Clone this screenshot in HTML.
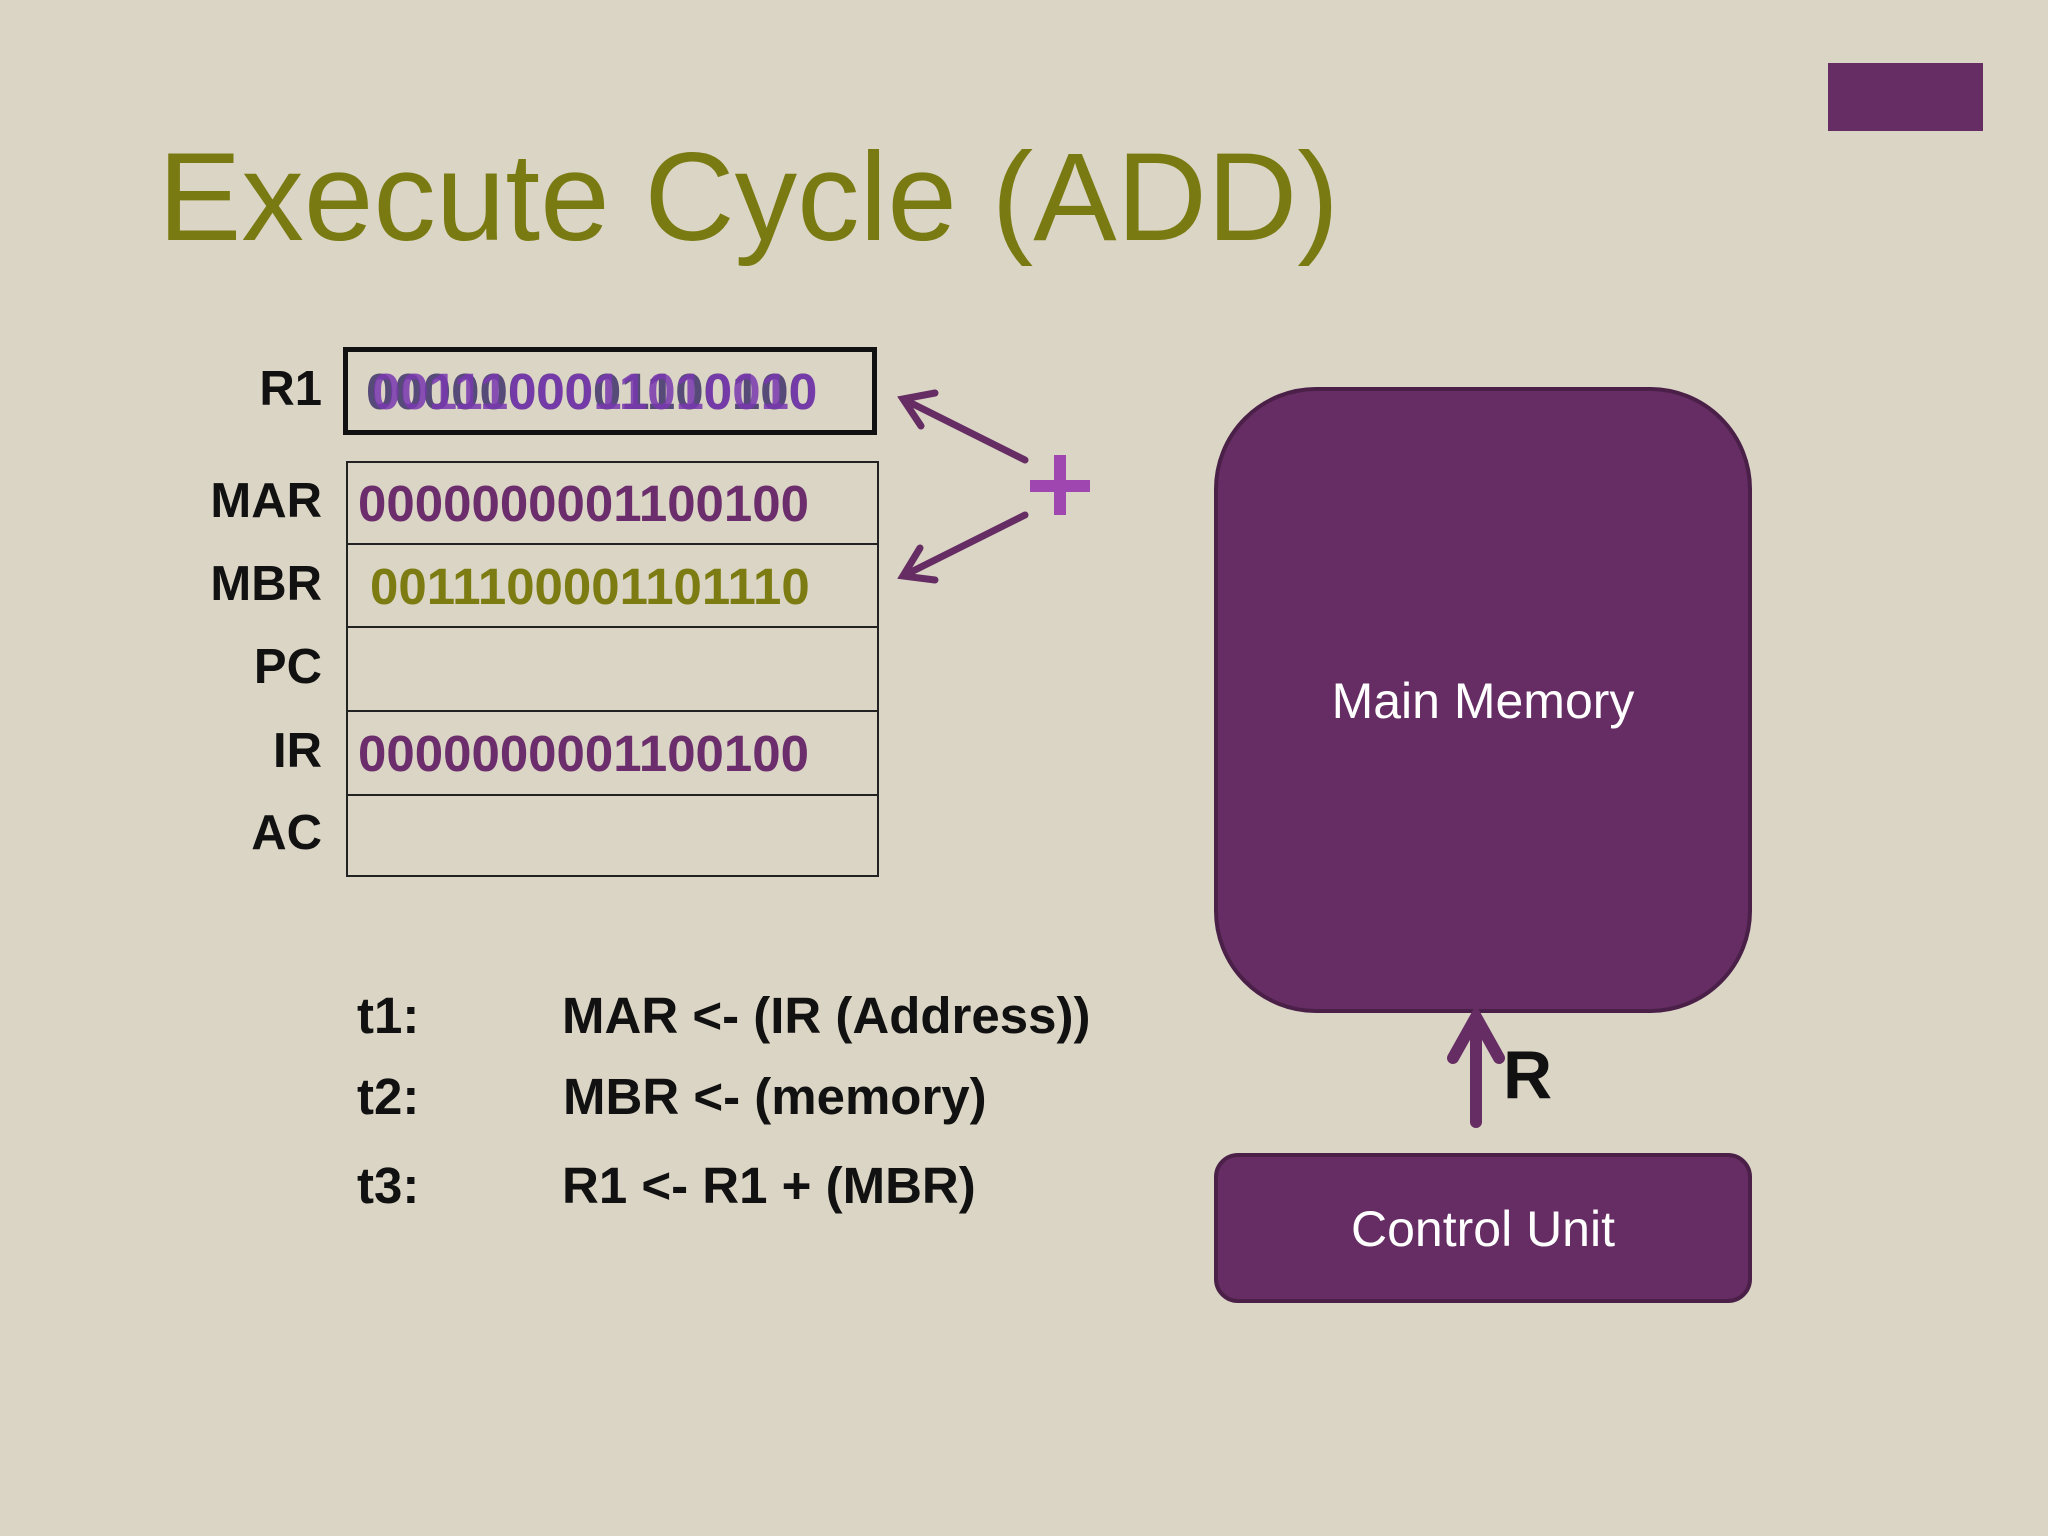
<!DOCTYPE html>
<html><head><meta charset="utf-8"><style>
body{margin:0;width:2048px;height:1536px;background:#dbd5c5;position:relative;overflow:hidden;font-family:"Liberation Sans",sans-serif}
.a{position:absolute;white-space:nowrap}
.lbl{position:absolute;font-weight:bold;font-size:49px;color:#111;text-align:right;width:150px;left:172px}
.bin{position:absolute;font-weight:bold;font-size:51px;left:358px}
.row{position:absolute;left:346px;width:533px;border:2px solid #222;box-sizing:border-box}
.t{position:absolute;font-weight:bold;font-size:51px;color:#111}
</style></head><body>
<div class="a" style="left:1828px;top:63px;width:155px;height:68px;background:#652d63"></div>
<div class="a" style="left:158px;top:126px;font-size:125px;color:#7a7a12">Execute Cycle (ADD)</div>

<div class="a" style="left:343px;top:347px;width:534px;height:88px;border:5px solid #111;box-sizing:border-box"></div>
<div class="row" style="top:461px;height:84px"></div>
<div class="row" style="top:543px;height:85px"></div>
<div class="row" style="top:626px;height:86px"></div>
<div class="row" style="top:710px;height:86px"></div>
<div class="row" style="top:794px;height:83px"></div>

<div class="lbl" style="top:361px">R1</div>
<div class="lbl" style="top:473px">MAR</div>
<div class="lbl" style="top:556px">MBR</div>
<div class="lbl" style="top:639px">PC</div>
<div class="lbl" style="top:723px">IR</div>
<div class="lbl" style="top:805px">AC</div>

<div class="bin" style="left:366px;top:362px;color:#564a78">0000000001100100</div>
<div class="bin" style="left:372px;top:362px;color:#7a38b0;opacity:.85">0011100011010010</div>
<div class="bin" style="top:474px;color:#6b2d6b">0000000001100100</div>
<div class="bin" style="left:370px;top:557px;color:#7c7c12">0011100001101110</div>
<div class="bin" style="top:724px;color:#6b2d6b">0000000001100100</div>

<svg class="a" style="left:0;top:0" width="2048" height="1536">
<g stroke="#652d63" stroke-width="7" stroke-linecap="round" fill="none">
<line x1="1025" y1="460" x2="905" y2="400"/><polyline points="935,393 903,399 921,426"/>
<line x1="1025" y1="515" x2="905" y2="575"/><polyline points="920,548 903,576 935,580"/>
</g>
<g stroke="#a046b0" stroke-width="12"><line x1="1060" y1="455" x2="1060" y2="515"/><line x1="1030" y1="486" x2="1090" y2="486"/></g>
<rect x="1216" y="389" width="534" height="622" rx="100" fill="#652d63" stroke="#4a1f48" stroke-width="4"/>
<rect x="1216" y="1155" width="534" height="146" rx="22" fill="#652d63" stroke="#4a1f48" stroke-width="4"/>
<g stroke="#652d63" stroke-width="12" stroke-linecap="round" fill="none">
<line x1="1476" y1="1122" x2="1476" y2="1020"/><polyline points="1453,1058 1476,1017 1499,1058"/>
</g>
</svg>
<div class="a" style="left:1216px;width:534px;text-align:center;top:672px;font-size:50px;color:#fff">Main Memory</div>
<div class="a" style="left:1216px;width:534px;text-align:center;top:1200px;font-size:50px;color:#fff">Control Unit</div>
<div class="a" style="left:1503px;top:1036px;font-size:68px;font-weight:bold;color:#111">R</div>

<div class="t" style="left:357px;top:986px">t1:</div>
<div class="t" style="left:562px;top:986px">MAR &lt;- (IR (Address))</div>
<div class="t" style="left:357px;top:1067px">t2:</div>
<div class="t" style="left:563px;top:1067px">MBR &lt;- (memory)</div>
<div class="t" style="left:357px;top:1156px">t3:</div>
<div class="t" style="left:562px;top:1156px">R1 &lt;- R1 + (MBR)</div>
</body></html>
